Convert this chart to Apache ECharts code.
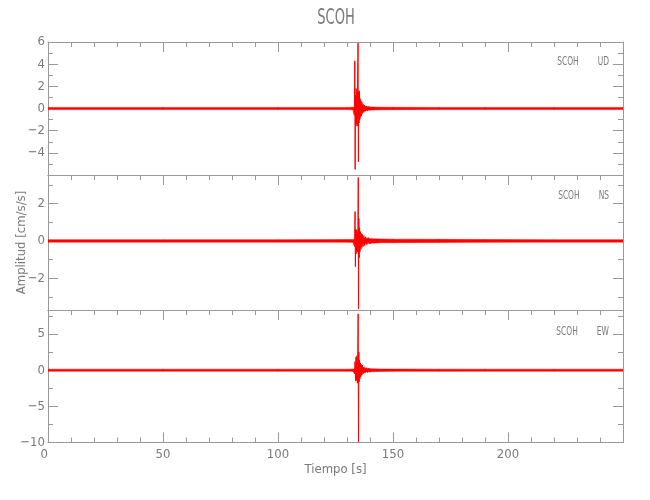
<!DOCTYPE html>
<html><head><meta charset="utf-8">
<script src="https://cdn.jsdelivr.net/npm/echarts@6/dist/echarts.min.js"></script>
<style>html,body{margin:0;padding:0;background:#fff}#c{width:650px;height:500px}</style>
</head><body><div id="c"></div>
<script>
// ---------- data ----------
const stationTitle = 'SCOH';
const panelLabels = ['SCOH        UD', 'SCOH        NS', 'SCOH        EW'];
const xLabel = 'Tiempo [s]';
const yLabel = 'Amplitud [cm/s/s]';

const timeRange = [0, 250];
const yRangeUD = [-6, 6];
const yRangeNS = [-3.7, 3.53];
const yRangeEW = [-10, 8.33];

// background noise envelope (half-width of the red band), per component
const bandTime = [0, 50, 100, 130, 133, 136, 138, 140, 145, 150, 170, 190, 220, 250];
const bandUD   = [0.1, 0.1, 0.1, 0.1, 0.12, 0.3, 0.2, 0.14, 0.12, 0.11, 0.1, 0.1, 0.1, 0.1];
const bandNS   = [0.065, 0.065, 0.065, 0.07, 0.08, 0.2, 0.14, 0.12, 0.1, 0.095, 0.085, 0.075, 0.065, 0.065];
const bandEW   = [0.14, 0.14, 0.14, 0.14, 0.16, 0.4, 0.25, 0.2, 0.17, 0.16, 0.15, 0.14, 0.14, 0.14];

// strong-motion wavelet around the arrival
const eventTimeUD = [132.5, 133.0, 133.2, 133.4, 133.55, 133.7, 133.85, 134.0, 134.15, 134.3, 134.45, 134.6, 134.8, 134.95, 135.1, 135.25, 135.4, 135.55, 135.7, 135.9, 136.1, 136.3, 136.5, 136.75, 137.0, 137.3, 137.6, 138.0, 138.4, 138.9, 139.5, 140.2, 141.0];
const eventUD     = [0, 0.15, -0.6, 4.3, -5.5, 1.2, -1.6, 1.8, -1.4, 1.1, -1.6, 2.2, 5.9, -4.8, 1.5, -1.3, 1.6, -1.0, 0.9, -0.8, 0.7, -0.65, 0.55, -0.45, 0.4, -0.35, 0.3, -0.25, 0.22, -0.2, 0.17, -0.15, 0];
const eventTimeNS = [132.5, 133.0, 133.3, 133.5, 133.65, 133.8, 133.95, 134.1, 134.25, 134.4, 134.55, 134.75, 134.9, 135.0, 135.15, 135.3, 135.45, 135.6, 135.8, 136.0, 136.2, 136.45, 136.7, 137.0, 137.3, 137.7, 138.1, 138.6, 139.2, 140.0, 141.0];
const eventNS     = [0, 0.1, -0.3, 1.57, -1.38, 0.6, -0.7, 0.6, -0.55, 0.5, -0.6, 0.8, 3.4, -3.65, 1.2, -0.9, 0.7, -0.6, 0.5, -0.45, 0.4, -0.35, 0.35, -0.3, 0.28, -0.25, 0.22, -0.2, 0.18, -0.16, 0];
const eventTimeEW = [132.5, 133.0, 133.3, 133.5, 133.7, 133.9, 134.1, 134.3, 134.5, 134.7, 134.85, 135.0, 135.15, 135.3, 135.45, 135.6, 135.8, 136.0, 136.2, 136.45, 136.7, 137.0, 137.4, 137.8, 138.3, 138.9, 139.5, 140.2, 141.0];
const eventEW     = [0, 0.2, -0.5, 1.2, -1.5, 1.8, -1.4, 2.0, -1.8, 2.8, 7.8, -9.9, 2.5, -1.6, 1.4, -1.2, 1.0, -0.9, 0.8, -0.7, 0.7, -0.5, 0.45, -0.4, 0.35, -0.3, 0.28, -0.25, 0];

// ---------- styling / layout ----------
const FONT = "'Liberation Sans Narrow','DejaVu Sans Condensed','Roboto Condensed','Liberation Sans',sans-serif";
const LINE = '#999999';
const TEXT = '#7a7a7a';
const RED = '#ff0000';
const LEFT = 48, RIGHT = 27;

const panels = [
  {range: yRangeUD, major: 2, minor: 1, hideMin: true, band: bandUD, evT: eventTimeUD, ev: eventUD},
  {range: yRangeNS, major: 2, minor: 1, hideMin: true, band: bandNS, evT: eventTimeNS, ev: eventNS},
  {range: yRangeEW, major: 5, minor: 2.5, hideMin: false, band: bandEW, evT: eventTimeEW, ev: eventEW}
];
const panelTops = [42, 175, 310];
const panelBottoms = [175, 310, 442.5];
const labelY = [62, 196, 332];

const grids = [], xAxes = [], yAxes = [], series = [], graphics = [];
const lineStyle = {color: LINE, width: 1};
const labelFont = {color: TEXT, fontFamily: FONT, fontSize: 13};

function hiddenX(gi) {
  xAxes.push({gridIndex: gi, type: 'value', show: false, min: timeRange[0], max: timeRange[1]});
}

panels.forEach((p, i) => {
  const isLast = i === panels.length - 1;
  const top = panelTops[i], h = panelBottoms[i] - panelTops[i];
  const scale = h / (p.range[1] - p.range[0]);

  // ---- panel frame grid (holds the data)
  const gi = grids.length;
  grids.push({left: LEFT, right: RIGHT, top: top, height: h});
  const xi = xAxes.length;
  ['bottom', 'top'].forEach(pos => {
    const ticks = pos === 'top' || isLast;
    xAxes.push({
      gridIndex: gi, type: 'value', position: pos,
      min: timeRange[0], max: timeRange[1], interval: 50,
      axisLine: {show: true, onZero: false, lineStyle},
      axisTick: {show: ticks, inside: true, length: 10, lineStyle},
      minorTick: {show: ticks, splitNumber: 5, length: 5, lineStyle},
      splitLine: {show: false}, minorSplitLine: {show: false},
      axisLabel: Object.assign({show: pos === 'bottom' && isLast, margin: 6, showMaxLabel: false,
        alignMinLabel: 'right',
        formatter: v => (v === timeRange[1] ? '' : String(v))}, labelFont),
      name: (pos === 'bottom' && isLast) ? xLabel : '',
      nameLocation: 'middle', nameGap: 21,
      nameTextStyle: labelFont
    });
  });
  const yi = yAxes.length;
  ['left', 'right'].forEach(pos => {
    yAxes.push({
      gridIndex: gi, type: 'value', position: pos,
      min: p.range[0], max: p.range[1],
      axisLine: {show: true, onZero: false, lineStyle},
      axisTick: {show: false}, axisLabel: {show: false}, splitLine: {show: false},
      name: (i === 1 && pos === 'left') ? yLabel : '',
      nameLocation: 'middle', nameGap: 20,
      nameTextStyle: labelFont
    });
  });

  // ---- tick grids: ranges aligned to the tick step so ticks start on multiples
  [p.major, p.minor].forEach((step, k) => {
    const isMajor = k === 0;
    const tMin = Math.ceil(p.range[0] / step - 1e-9) * step;
    const tMax = Math.floor(p.range[1] / step + 1e-9) * step;
    const tg = grids.length;
    grids.push({left: LEFT, right: RIGHT, top: top + (p.range[1] - tMax) * scale, height: (tMax - tMin) * scale});
    hiddenX(tg);
    ['left', 'right'].forEach(pos => {
      yAxes.push({
        gridIndex: tg, type: 'value', position: pos,
        min: tMin, max: tMax, interval: step,
        axisLine: {show: false},
        axisTick: {show: true, inside: true, length: isMajor ? 10 : 5, lineStyle},
        splitLine: {show: false},
        axisLabel: Object.assign({
          show: isMajor && pos === 'left', margin: 3,
          formatter: v => {
            if (p.hideMin && Math.abs(v - p.range[0]) < 1e-6) return '';
            return String(v).replace('-', '\u2212');
          }
        }, labelFont)
      });
    });
  });

  // ---- noise band (polygon segments between consecutive envelope samples)
  const segs = [];
  for (let j = 0; j < bandTime.length - 1; j++) {
    segs.push([bandTime[j], p.band[j], bandTime[j + 1], p.band[j + 1]]);
  }
  series.push({
    type: 'custom', xAxisIndex: xi, yAxisIndex: yi, silent: true, clip: true,
    encode: {x: [0, 2], y: [1, 3]},
    data: segs,
    renderItem: (params, api) => {
      const t0 = api.value(0), b0 = api.value(1), t1 = api.value(2), b1 = api.value(3);
      const pts = [api.coord([t0, b0]), api.coord([t1, b1]), api.coord([t1, -b1]), api.coord([t0, -b0])];
      return {type: 'polygon', shape: {points: pts}, style: {fill: RED, stroke: RED, lineWidth: 0.5}};
    }
  });
  // ---- event waveform
  series.push({
    type: 'line', xAxisIndex: xi, yAxisIndex: yi, showSymbol: false, silent: true,
    lineStyle: {color: RED, width: 1},
    data: p.evT.map((t, j) => [t, p.ev[j]])
  });
  graphics.push({type: 'text', x: 609, y: labelY[i], scaleX: 0.64,
    style: {text: panelLabels[i], fill: TEXT, font: '13px ' + FONT, textAlign: 'right', textVerticalAlign: 'middle'}});
});

graphics.push({type: 'text', x: 336, y: 18, scaleX: 0.66,
  style: {text: stationTitle, fill: TEXT, font: '22px ' + FONT, textAlign: 'center', textVerticalAlign: 'middle'}});

const chart = echarts.init(document.getElementById('c'), null, {renderer: 'canvas'});
chart.setOption({
  animation: false,
  backgroundColor: '#ffffff',
  grid: grids, xAxis: xAxes, yAxis: yAxes, series, graphic: graphics
});
</script></body></html>
